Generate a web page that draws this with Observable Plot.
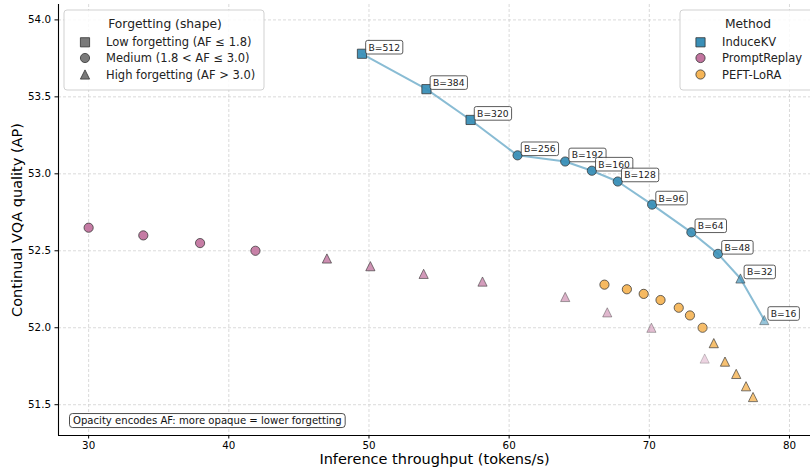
<!DOCTYPE html>
<html>
<head>
<meta charset="utf-8">
<script src="https://cdn.jsdelivr.net/npm/d3@7"></script>
<script src="https://cdn.jsdelivr.net/npm/@observablehq/plot@0.6"></script>
<style>
  html, body { margin: 0; padding: 0; background: #fff; }
  #chart { width: 810px; height: 475px; }
</style>
</head>
<body>
<div id="chart"></div>
<script>
// ---- data ----
const methods = ["InduceKV", "PromptReplay", "PEFT-LoRA"];
const methodColors = ["#3a8fb7", "#c2749f", "#f5b557"];

const induceBudget = [512, 384, 320, 256, 192, 160, 128, 96, 64, 48, 32, 16];
const induceThroughput = [49.5, 54.1, 57.25, 60.6, 64.0, 65.9, 67.75, 70.2, 73.0, 74.9, 76.5, 78.2];
const induceAP = [53.78, 53.55, 53.35, 53.12, 53.08, 53.02, 52.95, 52.80, 52.62, 52.48, 52.32, 52.05];
const induceAF = [1.2, 1.4, 1.6, 2.0, 2.1, 2.2, 2.4, 2.5, 2.7, 2.9, 4.2, 5.2];

const replayThroughput = [30.0, 33.9, 37.95, 41.9, 47.0, 50.1, 53.9, 58.1, 64.0, 67.0, 70.15, 73.95];
const replayAP = [52.65, 52.60, 52.55, 52.50, 52.45, 52.40, 52.35, 52.30, 52.20, 52.10, 52.00, 51.80];
const replayAF = [2.2, 2.4, 2.6, 2.8, 3.4, 3.6, 3.9, 4.1, 5.0, 5.3, 5.6, 6.6];

const loraThroughput = [66.8, 68.4, 69.6, 70.8, 72.1, 72.9, 73.8, 74.6, 75.4, 76.2, 76.9, 77.4];
const loraAP = [52.28, 52.25, 52.22, 52.18, 52.13, 52.08, 52.00, 51.90, 51.78, 51.70, 51.62, 51.55];
const loraAF = [2.0, 2.1, 2.3, 2.4, 2.6, 2.7, 2.9, 3.1, 3.2, 3.3, 3.4, 3.5];

const afCuts = [1.8, 3.0];
const shapeKeys = ["low", "medium", "high"];
const shapeLabels = ["Low forgetting (AF \u2264 1.8)", "Medium (1.8 < AF \u2264 3.0)", "High forgetting (AF > 3.0)"];

const xTicks = [30, 40, 50, 60, 70, 80];
const yTicks = [51.5, 52.0, 52.5, 53.0, 53.5, 54.0];
const xDomain = [27.85, 81.5];
const yDomain = [51.3, 54.1];

const xTitle = "Inference throughput (tokens/s)";
const yTitle = "Continual VQA quality (AP)";
const shapeLegendTitle = "Forgetting (shape)";
const methodLegendTitle = "Method";
const noteText = "Opacity encodes AF: more opaque = lower forgetting";

// ---- marker shapes (centered on their bounding box) ----
const symSquare = {draw(ctx, size) { const r = Math.sqrt(size / Math.PI); ctx.moveTo(-r, -r); ctx.lineTo(r, -r); ctx.lineTo(r, r); ctx.lineTo(-r, r); ctx.closePath(); }};
const symCircle = {draw(ctx, size) { const r = Math.sqrt(size / Math.PI); ctx.moveTo(r, 0); ctx.arc(0, 0, r, 0, 2 * Math.PI); ctx.closePath(); }};
const symTriangle = {draw(ctx, size) { const r = Math.sqrt(size / Math.PI); ctx.moveTo(0, -r); ctx.lineTo(r, r); ctx.lineTo(-r, r); ctx.closePath(); }};
const shapeSymbols = {low: symSquare, medium: symCircle, high: symTriangle};

const shapeOf = af => af <= afCuts[0] ? "low" : af <= afCuts[1] ? "medium" : "high";

const rows = [];
induceThroughput.forEach((t, i) => rows.push({method: methods[0], x: t, y: induceAP[i], af: induceAF[i], budget: induceBudget[i], shape: shapeOf(induceAF[i])}));
replayThroughput.forEach((t, i) => rows.push({method: methods[1], x: t, y: replayAP[i], af: replayAF[i], shape: shapeOf(replayAF[i])}));
loraThroughput.forEach((t, i) => rows.push({method: methods[2], x: t, y: loraAP[i], af: loraAF[i], shape: shapeOf(loraAF[i])}));
const induceRows = rows.filter(d => d.method === methods[0]);

const R = 4.6;
const dotMarks = shapeKeys.map(k => Plot.dot(rows.filter(d => d.shape === k), {
  x: "x", y: "y", fill: "method", symbol: shapeSymbols[k], r: R,
  stroke: "#333", strokeWidth: 0.8,
  fillOpacity: "af", strokeOpacity: "af"
}));

const svg = Plot.plot({
  width: 810, height: 475,
  marginLeft: 58, marginRight: 0, marginTop: 4, marginBottom: 40,
  x: {domain: xDomain, label: null},
  y: {domain: yDomain, label: null},
  color: {domain: methods, range: methodColors},
  opacity: {type: "linear", domain: [2.5, 7], range: [0.95, 0.25], clamp: true},
  style: {fontFamily: "'DejaVu Sans', sans-serif", fontSize: "10px", color: "#000", background: "#fff"},
  marks: [
    Plot.gridX(xTicks, {stroke: "#d0d0d0", strokeOpacity: 1, strokeWidth: 0.8, strokeDasharray: "3,2"}),
    Plot.gridY(yTicks, {stroke: "#d0d0d0", strokeOpacity: 1, strokeWidth: 0.8, strokeDasharray: "3,2"}),
    Plot.axisX({ticks: xTicks, tickSize: 3.5, tickPadding: 3, label: null, fontSize: 10.3}),
    Plot.axisY({ticks: yTicks, tickSize: 3.5, tickPadding: 4, tickFormat: d => d.toFixed(1), label: null, fontSize: 10.3}),
    Plot.ruleX([xDomain[0]], {stroke: "#000", strokeWidth: 1.1}),
    Plot.ruleY([yDomain[0]], {stroke: "#000", strokeWidth: 1.1}),
    Plot.line(induceRows, {x: "x", y: "y", stroke: methodColors[0], strokeOpacity: 0.6, strokeWidth: 2}),
    ...dotMarks,
    Plot.text(induceRows, {x: "x", y: "y", text: d => "B=" + d.budget, dx: 6.5, dy: -6, textAnchor: "start", fontSize: 9.2, fill: "#222"}),
    Plot.text([xTitle], {frameAnchor: "bottom", dy: 28, textAnchor: "middle", fontSize: 14.5, fill: "#000"}),
    Plot.text([yTitle], {frameAnchor: "left", rotate: -90, dx: -41, textAnchor: "middle", fontSize: 14.5, fill: "#000"})
  ]
});
document.getElementById("chart").appendChild(svg);

const root = d3.select(svg);
const ns = "http://www.w3.org/2000/svg";

// boxed budget labels
root.selectAll("text").filter(function() { return /^B=\d+$/.test(this.textContent); }).each(function() {
  const b = this.getBBox();
  const rect = document.createElementNS(ns, "rect");
  const px = 2.8, py = 1.3;
  rect.setAttribute("x", b.x - px);
  rect.setAttribute("y", b.y - py);
  rect.setAttribute("width", b.width + 2 * px);
  rect.setAttribute("height", b.height + 2 * py);
  rect.setAttribute("rx", 2);
  rect.setAttribute("fill", "#fff");
  rect.setAttribute("fill-opacity", 0.9);
  rect.setAttribute("stroke", "#333");
  rect.setAttribute("stroke-width", 0.8);
  const tr = this.getAttribute("transform");
  if (tr) rect.setAttribute("transform", tr);
  this.parentNode.insertBefore(rect, this);
});

// legends
function legend(box, title, titleX, entries) {
  const g = root.append("g").attr("font-family", "'DejaVu Sans', sans-serif");
  g.append("rect").attr("x", box[0]).attr("y", box[1]).attr("width", box[2]).attr("height", box[3])
    .attr("rx", 3).attr("fill", "#fff").attr("fill-opacity", 0.85).attr("stroke", "#cccccc").attr("stroke-width", 0.9);
  g.append("text").attr("x", titleX).attr("y", box[1] + 14).attr("dy", "0.35em").attr("text-anchor", "middle")
    .attr("font-size", 12.3).attr("fill", "#222").text(title);
  entries.forEach(e => {
    g.append("path").attr("transform", `translate(${e.sx},${e.sy})`)
      .attr("d", d3.symbol(e.symbol, R * R * Math.PI)())
      .attr("fill", e.fill).attr("stroke", "#333").attr("stroke-width", 0.8);
    g.append("text").attr("x", e.tx).attr("y", e.sy).attr("dy", "0.35em").attr("text-anchor", "start")
      .attr("font-size", 11.5).attr("fill", "#222").text(e.label);
  });
}
const entryY = [42.3, 58, 74.5];
legend([64, 10, 200, 80], shapeLegendTitle, 165,
  shapeKeys.map((k, i) => ({symbol: shapeSymbols[k], fill: "#7a7a7a", label: shapeLabels[i], sx: 85, sy: entryY[i], tx: 106})));
legend([680, 10, 136, 80], methodLegendTitle, 748,
  methods.map((m, i) => ({symbol: i === 0 ? symSquare : symCircle, fill: methodColors[i], label: m, sx: 700.5, sy: entryY[i], tx: 722})));

// opacity note
const note = root.append("g").attr("font-family", "'DejaVu Sans', sans-serif");
const nt = note.append("text").attr("x", 73).attr("y", 420.5).attr("dy", "0.35em").attr("text-anchor", "start")
  .attr("font-size", 10.1).attr("fill", "#111").text(noteText);
const nb = nt.node().getBBox();
note.insert("rect", "text").attr("x", nb.x - 3.5).attr("y", nb.y - 1.5).attr("width", nb.width + 7).attr("height", nb.height + 3)
  .attr("rx", 3).attr("fill", "#fff").attr("stroke", "#222").attr("stroke-width", 0.8);
</script>
</body>
</html>
